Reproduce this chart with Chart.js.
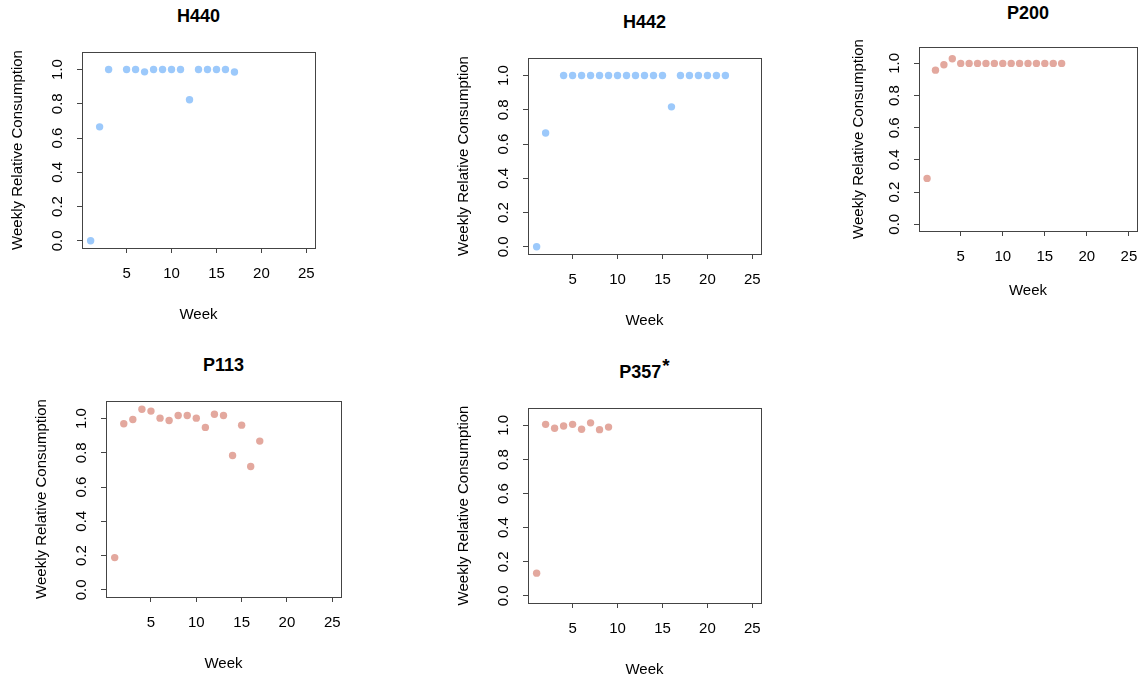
<!DOCTYPE html>
<html>
<head>
<meta charset="utf-8">
<script src="https://cdn.jsdelivr.net/npm/chart.js@4.4.1/dist/chart.umd.min.js"></script>
<style>
  body { margin: 0; background: #fff; width: 1142px; height: 682px; position: relative; overflow: hidden; }
  canvas { position: absolute; }
  .ttl { position: absolute; text-align: center; font: bold 18px "Liberation Sans", Arial, sans-serif; line-height: 22px; color: #000; }
  .ttl sup { font-size: 19px; vertical-align: 0; position: relative; top: -6px; margin-left: 1px; }
</style>
</head>
<body>
<script>
// data
const xTicks = [5, 10, 15, 20, 25];
const yTicks = [0, 0.2, 0.4, 0.6, 0.8, 1.0];

const h440Weeks = [1, 2, 3, 5, 6, 7, 8, 9, 10, 11, 12, 13, 14, 15, 16, 17];
const h440Vals = [0, 0.665, 1, 1, 1, 0.986, 1, 1, 1, 1, 0.823, 1, 1, 1, 1, 0.985];

const h442Weeks = [1, 2, 4, 5, 6, 7, 8, 9, 10, 11, 12, 13, 14, 15, 16, 17, 18, 19, 20, 21, 22];
const h442Vals = [0, 0.664, 1, 1, 1, 1, 1, 1, 1, 1, 1, 1, 1, 1, 0.817, 1, 1, 1, 1, 1, 1];

const p200Weeks = [1, 2, 3, 4, 5, 6, 7, 8, 9, 10, 11, 12, 13, 14, 15, 16, 17];
const p200Vals = [0.285, 0.958, 0.992, 1.029, 1, 1, 1, 1, 1, 1, 1, 1, 1, 1, 1, 1, 1];

const p113Weeks = [1, 2, 3, 4, 5, 6, 7, 8, 9, 10, 11, 12, 13, 14, 15, 16, 17];
const p113Vals = [0.188, 0.969, 0.994, 1.054, 1.043, 1.002, 0.988, 1.017, 1.017, 1.002, 0.948, 1.025, 1.017, 0.784, 0.961, 0.72, 0.868];

const p357Weeks = [1, 2, 3, 4, 5, 6, 7, 8, 9];
const p357Vals = [0.133, 1.006, 0.983, 0.996, 1.006, 0.977, 1.015, 0.975, 0.99];

const blue = '#9cc9fb';
const pink = '#e3a89e';
const axisColor = '#444';
const fontFamily = '"Liberation Sans", Arial, sans-serif';

// panel placement: plot box edges plus gaps to the axis titles
const panels = [
    { title: 'H440', weeks: h440Weeks, vals: h440Vals, color: blue, box: [82, 52, 315, 248], yGap: 64, xGap: 67, tGap: 36 },
    { title: 'H442', weeks: h442Weeks, vals: h442Vals, color: blue, box: [528, 58, 761, 254], yGap: 64, xGap: 67, tGap: 36 },
    { title: 'P200', weeks: p200Weeks, vals: p200Vals, color: pink, box: [919, 47, 1137, 231], yGap: 60, xGap: 60, tGap: 34 },
    { title: 'P113', weeks: p113Weeks, vals: p113Vals, color: pink, box: [106, 401, 341, 597], yGap: 64, xGap: 67, tGap: 36 },
    { title: 'P357<sup>*</sup>', weeks: p357Weeks, vals: p357Vals, color: pink, box: [528, 408, 761, 603], yGap: 64, xGap: 67, tGap: 36 }
];

// R style box around the plot region
const boxPlugin = {
    id: 'box',
    afterDraw(chart) {
        const a = chart.chartArea;
        const ctx = chart.ctx;
        ctx.save();
        ctx.strokeStyle = axisColor;
        ctx.lineWidth = 1;
        ctx.strokeRect(Math.round(a.left) + 0.5, Math.round(a.top) + 0.5, Math.round(a.right - a.left), Math.round(a.bottom - a.top));
        ctx.restore();
    }
};

panels.forEach(function (p) {
    const [bl, bt, br, bb] = p.box;
    const padTop = 20, padRight = 16;
    const yW = p.yGap + 13;
    const xH = p.xGap + 13;

    const canvas = document.createElement('canvas');
    const w = (br - bl) + yW + padRight;
    const h = (bb - bt) + padTop + xH;
    canvas.width = w;
    canvas.height = h;
    canvas.style.width = w + 'px';
    canvas.style.height = h + 'px';
    canvas.style.left = (bl - yW) + 'px';
    canvas.style.top = (bt - padTop) + 'px';
    document.body.appendChild(canvas);

    const t = document.createElement('div');
    t.className = 'ttl';
    t.innerHTML = p.title;
    t.style.left = bl + 'px';
    t.style.width = (br - bl) + 'px';
    t.style.top = (bt - p.tGap - 11) + 'px';
    document.body.appendChild(t);

    new Chart(canvas.getContext('2d'), {
        type: 'scatter',
        data: {
            datasets: [{
                data: p.weeks.map((wk, i) => ({ x: wk, y: p.vals[i] })),
                backgroundColor: p.color,
                borderWidth: 0,
                pointRadius: 3.7
            }]
        },
        options: {
            responsive: false,
            animation: false,
            layout: { padding: { top: padTop, right: padRight, left: 0, bottom: 0 } },
            plugins: { legend: { display: false }, tooltip: { enabled: false } },
            scales: {
                x: {
                    type: 'linear',
                    min: 0.04,
                    max: 25.96,
                    afterBuildTicks: s => { s.ticks = xTicks.map(v => ({ value: v })); },
                    afterFit: s => { s.height = xH; },
                    grid: { drawOnChartArea: false, drawTicks: true, tickLength: 5, color: axisColor, tickColor: axisColor },
                    border: { display: false },
                    ticks: { color: '#000', padding: 12, maxRotation: 0, font: { family: fontFamily, size: 15 } },
                    title: { display: true, text: 'Week', color: '#000', padding: { top: 4, bottom: 4 }, font: { family: fontFamily, size: 15 } }
                },
                y: {
                    min: -0.042,
                    max: 1.102,
                    afterBuildTicks: s => { s.ticks = yTicks.map(v => ({ value: v })); },
                    afterFit: s => { s.width = yW; },
                    grid: { drawOnChartArea: false, drawTicks: true, tickLength: 5, color: axisColor, tickColor: axisColor },
                    border: { display: false },
                    ticks: {
                        color: '#000', padding: 9, minRotation: 90, maxRotation: 90, crossAlign: 'center',
                        font: { family: fontFamily, size: 15 },
                        callback: v => v.toFixed(1)
                    },
                    title: { display: true, text: 'Weekly Relative Consumption', color: '#000', padding: { top: 4, bottom: 4 }, font: { family: fontFamily, size: 15 } }
                }
            }
        },
        plugins: [boxPlugin]
    });
});
</script>
</body>
</html>
